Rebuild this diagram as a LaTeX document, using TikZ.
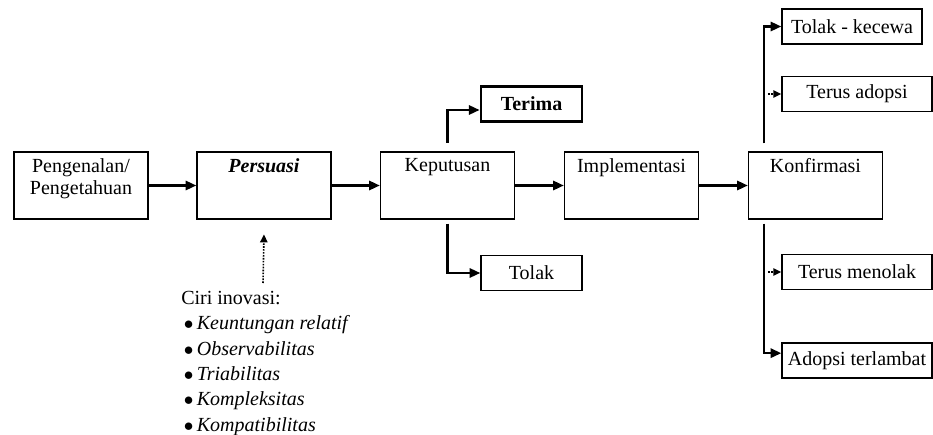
\documentclass[tikz,border=0pt]{standalone}
\usepackage{fontspec}
\setmainfont{Liberation Serif}
\usetikzlibrary{arrows.meta}
\tikzset{>={Triangle[length=8pt,width=7pt]}}
\tikzset{
    stage/.style={draw, line width=1.1pt, minimum width=100.5pt, minimum height=50.25pt,
        label={[anchor=north, inner sep=5pt, align=center, font=\fontsize{15}{16.5}\selectfont]north:#1}},
    outcome/.style={draw, line width=1.1pt, minimum height=26pt, inner sep=0pt, font=\fontsize{15}{18}\selectfont},
    flow/.style={->, line width=1.6pt},
    hint/.style={-{Triangle[length=6pt,width=5.5pt]}, densely dotted, line width=1.3pt},
}

\begin{document}
\begin{tikzpicture}[x=0.75pt, y=-0.75pt]
    \useasboundingbox (0,0) rectangle (933,435);
    % main stages
    \node[stage={Pengenalan/\\Pengetahuan}] (pen) at (81,185.5) {};
    \node[stage={\textbf{\textit{Persuasi}}}] (per) at (264,185.5) {};
    \node[stage={Keputusan}] (kep) at (447.5,185.5) {};
    \node[stage={Implementasi}] (imp) at (631.5,185.5) {};
    \node[stage={Konfirmasi}] (kon) at (815.5,185.5) {};
    % outcomes
    \node[outcome, minimum width=75.75pt, line width=2.2pt] (ter) at (531.5,104) {\textbf{Terima}};
    \node[outcome, minimum width=75.75pt] (tol) at (531.5,273) {Tolak};
    \node[outcome, minimum width=105pt] (kec) at (852,26.5) {Tolak - kecewa};
    \node[outcome, minimum width=112.5pt] (tad) at (857,94) {Terus adopsi};
    \node[outcome, minimum width=112.5pt] (tme) at (857,272) {Terus menolak};
    \node[outcome, minimum width=112.5pt] (ate) at (857,360.5) {Adopsi terlambat};
    % ciri inovasi
    \node[anchor=north west, inner sep=0pt, align=left, font=\fontsize{15}{19}\selectfont] (ciri) at (181,291)
        {Ciri inovasi:\\
         \hspace*{2pt}$\bullet$\,\textit{Keuntungan relatif}\\
         \hspace*{2pt}$\bullet$\,\textit{Observabilitas}\\
         \hspace*{2pt}$\bullet$\,\textit{Triabilitas}\\
         \hspace*{2pt}$\bullet$\,\textit{Kompleksitas}\\
         \hspace*{2pt}$\bullet$\,\textit{Kompatibilitas}};

    % main flow
    \draw[flow] (pen.east) -- (per.west);
    \draw[flow] (per.east) -- (kep.west);
    \draw[flow] (kep.east) -- (imp.west);
    \draw[flow] (imp.east) -- (kon.west);
    % keputusan branches
    \coordinate (kepup) at ([yshift=6.5pt]kep.north);
    \coordinate (kepdown) at ([yshift=-3pt]kep.south);
    \draw[flow] (kepup) |- ([yshift=-4.5pt]ter.west);
    \draw[flow] (kepdown) |- (tol.west);
    % konfirmasi branches
    \coordinate (konup) at ([xshift=12.4pt,yshift=6pt]kon.north west);
    \coordinate (kondown) at ([xshift=12.4pt,yshift=-3pt]kon.south west);
    \draw[flow] (konup) |- (kec.west);
    \draw[flow] (kondown) |- ([yshift=5.5pt]ate.west);
    \coordinate (tadtail) at ([xshift=-10pt]tad.west);
    \coordinate (tmetail) at ([xshift=-10pt]tme.west);
    \draw[hint] (tadtail) -- (tad.west);
    \draw[hint] (tmetail) -- (tme.west);
    % ciri to persuasi
    \coordinate (citip) at ([yshift=-11pt]per.south);
    \coordinate (citail) at (263,283);
    \draw[hint, line width=1.2pt] (citail) -- (citip);
\end{tikzpicture}
\end{document}
